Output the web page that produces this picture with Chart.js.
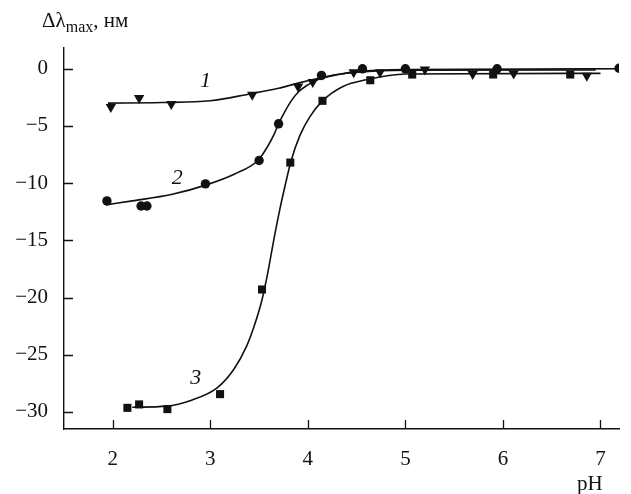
<!DOCTYPE html>
<html>
<head>
<meta charset="utf-8">
<script src="https://cdn.jsdelivr.net/npm/chart.js@4.4.1/dist/chart.umd.min.js"></script>
<style>
    html, body { margin: 0; padding: 0; background: #fff; }
    #wrap { position: relative; width: 631px; height: 494px; }
    #plot { position: absolute; left: 0; top: 0; }
    .lbl { position: absolute; font-family: "Liberation Serif", "DejaVu Serif", serif; color: #111; white-space: nowrap; }
    #ytitle { left: 42px; top: 8px; font-size: 21px; }
    #ytitle sub { font-size: 16px; vertical-align: -5px; line-height: 0; }
    #xtitle { left: 577px; top: 471px; font-size: 21px; }
</style>
</head>
<body>
<div id="wrap">
    <canvas id="plot" width="631" height="494"></canvas>
    <div class="lbl" id="ytitle">Δλ<sub>max</sub>, нм</div>
    <div class="lbl" id="xtitle">pH</div>
</div>
<script>
// Tick values
const xTicks = [2, 3, 4, 5, 6, 7];
const yTicks = [0, -5, -10, -15, -20, -25, -30];

// Measured points (pH, shift in nm)
const pts1 = [[1.98, -3.35], [2.27, -2.56], [2.6, -3.08], [3.43, -2.27], [3.9, -1.54], [4.05, -1.16],
    [4.47, -0.3], [4.74, -0.3], [5.2, -0.05], [5.69, -0.45], [6.11, -0.4], [6.86, -0.6]];
const pts2 = [[1.94, -11.55], [2.29, -12.0], [2.35, -12.0], [2.95, -10.06], [3.5, -8.02], [3.7, -4.81],
    [4.14, -0.58], [4.56, 0], [5.0, 0], [5.94, 0], [7.19, 0.05]];
const pts3 = [[2.15, -29.65], [2.27, -29.35], [2.56, -29.76], [3.1, -28.45], [3.53, -19.3], [3.82, -8.2],
    [4.15, -2.8], [4.64, -1.0], [5.07, -0.5], [5.9, -0.5], [6.69, -0.5]];

// Fitted curves
const curve1 = [[1.95, -3.0], [2.5, -2.95], [3.0, -2.8], [3.4, -2.2], [3.7, -1.7], [3.9, -1.25],
    [4.1, -0.85], [4.3, -0.5], [4.5, -0.3], [5.0, -0.12], [6.95, -0.1]];
const curve2 = [[1.93, -11.9], [2.2, -11.55], [2.6, -11.0], [2.96, -10.15], [3.25, -9.2], [3.49, -8.0],
    [3.58, -6.9], [3.65, -5.8], [3.7, -4.8], [3.76, -3.8], [3.83, -2.8], [3.9, -2.05], [4.0, -1.4],
    [4.1, -0.95], [4.3, -0.52], [4.5, -0.25], [5.0, -0.06], [7.2, 0]];
const curve3 = [[2.2, -29.6], [2.55, -29.5], [2.8, -29.0], [3.07, -27.9], [3.24, -26.3], [3.37, -24.3],
    [3.45, -22.5], [3.53, -20.2], [3.59, -17.8], [3.65, -15.0], [3.71, -12.4], [3.77, -10.1], [3.83, -8.0],
    [3.92, -5.8], [4.02, -4.2], [4.15, -2.8], [4.36, -1.54], [4.6, -0.95], [5.0, -0.45], [7.0, -0.4]];

// Curve numbers: [text, pH, value]
const curveLabels = [['1', 2.95, -1.1], ['2', 2.66, -9.55], ['3', 2.85, -27.1]];

const ink = '#111';
const toXY = arr => arr.map(p => ({ x: p[0], y: p[1] }));

function lineSet(data) {
    return {
        data: toXY(data), showLine: true, borderColor: ink, borderWidth: 1.6,
        pointRadius: 0, cubicInterpolationMode: 'monotone', order: 2
    };
}
function markSet(data, style, radius, rotation) {
    return {
        data: toXY(data), showLine: false, pointStyle: style, pointRadius: radius,
        pointRotation: rotation || 0, backgroundColor: ink, borderColor: ink, borderWidth: 0, order: 1
    };
}

// Inward tick marks and curve numbers
const decor = {
    id: 'decor',
    afterDraw(chart) {
        const ctx = chart.ctx;
        const xs = chart.scales.x, ys = chart.scales.y;
        const area = chart.chartArea;
        ctx.save();
        ctx.strokeStyle = ink;
        ctx.lineWidth = 1.3;
        ctx.beginPath();
        xTicks.forEach(v => {
            const px = Math.round(xs.getPixelForValue(v)) + 0.5;
            ctx.moveTo(px, area.bottom);
            ctx.lineTo(px, area.bottom - 9);
        });
        yTicks.forEach(v => {
            const py = Math.round(ys.getPixelForValue(v)) + 0.5;
            ctx.moveTo(area.left, py);
            ctx.lineTo(area.left + 9, py);
        });
        ctx.stroke();
        ctx.fillStyle = ink;
        ctx.font = 'italic 22px "Liberation Serif", serif';
        ctx.textAlign = 'center';
        ctx.textBaseline = 'middle';
        curveLabels.forEach(l => {
            ctx.fillText(l[0], xs.getPixelForValue(l[1]), ys.getPixelForValue(l[2]));
        });
        ctx.restore();
    }
};

const tickFont = { family: '"Liberation Serif", serif', size: 21 };

new Chart(document.getElementById('plot'), {
    type: 'scatter',
    data: {
        datasets: [
            lineSet(curve1), lineSet(curve2), lineSet(curve3),
            markSet(pts1, 'triangle', 6, 180),
            markSet(pts2, 'circle', 4.7),
            markSet(pts3, 'rect', 5.7)
        ]
    },
    options: {
        responsive: false,
        animation: false,
        layout: { padding: { top: 48, right: 12, left: 0, bottom: 0 } },
        plugins: { legend: { display: false }, tooltip: { enabled: false } },
        scales: {
            x: {
                type: 'linear', min: 1.5, max: 7.19,
                afterBuildTicks: s => { s.ticks = xTicks.map(v => ({ value: v })); },
                afterFit: s => { s.height = 65; },
                grid: { display: false },
                border: { display: true, color: ink, width: 1.4 },
                ticks: { color: ink, font: tickFont, padding: 10 }
            },
            y: {
                type: 'linear', min: -31.5, max: 1.82,
                afterBuildTicks: s => { s.ticks = yTicks.map(v => ({ value: v })); },
                afterFit: s => { s.width = 64; },
                grid: { display: false },
                border: { display: true, color: ink, width: 1.4 },
                ticks: {
                    color: ink, font: tickFont, padding: 8,
                    callback: v => (v < 0 ? '\u2212' + Math.abs(v) : String(v))
                }
            }
        }
    },
    plugins: [decor]
});
</script>
</body>
</html>
